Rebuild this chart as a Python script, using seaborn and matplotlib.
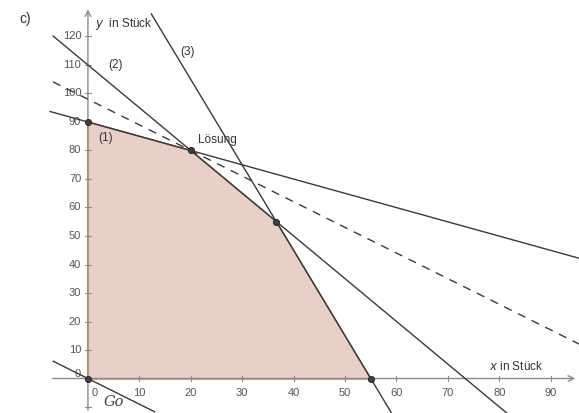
import numpy as np
import pandas as pd
import seaborn as sns
import matplotlib.pyplot as plt

# Eckpunkte des zulässigen Bereichs
ecken_x = [0, 0, 20, 36.67, 55]
ecken_y = [0, 90, 80, 55, 0]

# Randgeraden (je zwei Punkte)
g1_x, g1_y = [-7.4, 95.5], [93.7, 42.2]      # (1)
g2_x, g2_y = [-6.8, 81.5], [120.2, -12.2]    # (2)
g3_x, g3_y = [12.3, 59.0], [128.0, -12.0]    # (3)
ziel_x, ziel_y = [-6.8, 95.5], [104.1, 12.1]  # Zielfunktion durch Lösung
g0_x, g0_y = [-6.8, 13.0], [6.1, -11.7]       # G0

x_ticks = [10, 20, 30, 40, 50, 60, 70, 80, 90]
y_ticks = [10, 20, 30, 40, 50, 60, 70, 80, 90, 100, 110, 120]

sns.set_style("white")
plt.rcParams['font.family'] = ['Liberation Sans', 'DejaVu Sans']

fig = plt.figure(figsize=(5.79, 4.13), dpi=100)
ax = fig.add_axes([0, 0, 1, 1])
ax.set_xlim(-17.1, 95.5)
ax.set_ylim(-12.1, 132.8)
ax.axis("off")

# zulässiger Bereich
ax.fill(ecken_x, ecken_y, color="#e6d0c7", zorder=1)
ax.plot(ecken_x[1:], ecken_y[1:], color="#8a5a44", lw=1.0, zorder=2)
ax.plot(ecken_x[:2], ecken_y[:2], color="#e8a878", lw=1.5, zorder=2)
ax.plot([0, 55], [0, 0], color="#e0a888", lw=1.5, zorder=2)

# Achsen
grau = "#8a8a8a"
ax.annotate("", xy=(95.3, 0), xytext=(-7.4, 0),
            arrowprops=dict(arrowstyle="->", color=grau, lw=1.0), zorder=3)
ax.annotate("", xy=(0, 130.5), xytext=(0, -12.1),
            arrowprops=dict(arrowstyle="->", color=grau, lw=1.0), zorder=3)
for t in x_ticks:
    ax.plot([t, t], [-0.9, 0.9], color=grau, lw=0.8, zorder=3)
    ax.text(t, -3.3, str(t), ha="center", va="top", fontsize=8, color="#555555")
for t in y_ticks + [-10]:
    ax.plot([-0.5, 0.5], [t, t], color=grau, lw=0.8, zorder=3)
for t in y_ticks:
    ax.text(-1.3, t, str(t), ha="right", va="center", fontsize=8, color="#555555")
ax.text(-1.3, 1.5, "0", ha="right", va="center", fontsize=8, color="#555555")
ax.text(0.8, -3.3, "0", ha="left", va="top", fontsize=8, color="#555555")

# Geraden
for gx, gy in [(g1_x, g1_y), (g2_x, g2_y), (g3_x, g3_y), (g0_x, g0_y)]:
    sns.lineplot(x=gx, y=gy, ax=ax, color="#3a3a3a", lw=1.0, zorder=4)
sns.lineplot(x=ziel_x, y=ziel_y, ax=ax, color="#3a3a3a", lw=1.0,
             linestyle=(0, (6, 5)), zorder=4)

# Eckpunkte
sns.scatterplot(x=ecken_x, y=ecken_y, ax=ax, color="#404040", s=20,
                edgecolor="#202020", linewidth=0.6, zorder=5)

# Beschriftungen
ax.text(2.0, 83.5, "(1)", fontsize=8.5, color="#333333")
ax.text(4.0, 109, "(2)", fontsize=8.5, color="#333333")
ax.text(18.0, 113.5, "(3)", fontsize=8.5, color="#333333")
ax.text(21.5, 82.5, "Lösung", fontsize=8.5, color="#333333")
ax.text(1.3, 123.5, "$y$  in Stück", fontsize=8.5, color="#333333")
ax.text(78.0, 3, "$x$ in Stück", fontsize=8.5, color="#333333")
ax.text(3.0, -9.5, "Go", fontsize=10.5, color="#444444", style="italic",
        family="DejaVu Serif")
fig.text(0.033, 0.97, "c)", fontsize=10, color="#333333", va="top")

fig.savefig("out.png", dpi=100)
